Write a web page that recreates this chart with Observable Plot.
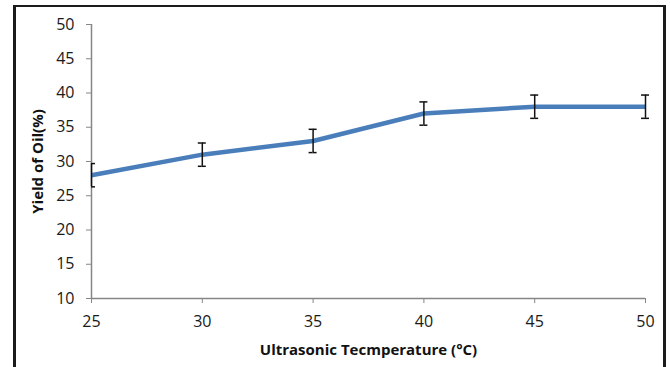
<!DOCTYPE html>
<html>
<head>
<meta charset="utf-8">
<script src="https://cdn.jsdelivr.net/npm/d3@7"></script>
<script src="https://cdn.jsdelivr.net/npm/@observablehq/plot@0.6"></script>
<style>
  html, body { margin: 0; padding: 0; background: #fff; }
  #wrap { position: relative; width: 670px; height: 367px; overflow: hidden; }
  #frame { position: absolute; left: 13px; top: 5px; width: 647px; height: 400px;
           border-left: 3px solid #1b1b1b; border-top: 2px solid #1b1b1b; border-right: 3px solid #1b1b1b;
           pointer-events: none; }
  g[aria-label="x-axis tick label"] text, g[aria-label="y-axis tick label"] text { font-size: 16px; }
</style>
</head>
<body>
<div id="wrap"><div id="frame"></div></div>
<script>
const temperatures = [25, 30, 35, 40, 45, 50];
const yields = [28, 31, 33, 37, 38, 38];
const errors = [1.7, 1.7, 1.7, 1.7, 1.7, 1.7];
const xTicks = [25, 30, 35, 40, 45, 50];
const yTicks = [10, 15, 20, 25, 30, 35, 40, 45, 50];
const xTitle = "Ultrasonic Tecmperature (°C)";
const yTitle = "Yield of Oil(%)";

const data = temperatures.map((t, i) => ({t, y: yields[i], lo: yields[i] - errors[i], hi: yields[i] + errors[i]}));
const tMin = d3.min(temperatures);
const tMax = d3.max(temperatures);

const axisColor = "#868686";
const font = "'Open Sans', 'Liberation Sans', sans-serif";

const chart = Plot.plot({
  width: 670,
  height: 367,
  marginLeft: 91,
  marginRight: 25,
  marginTop: 24,
  marginBottom: 69,
  style: {fontFamily: font, fontSize: "16px", color: "#1a1a1a", background: "transparent"},
  x: {domain: [tMin, tMax]},
  y: {domain: [10, 50]},
  marks: [
    Plot.axisX({ticks: xTicks, tickSize: 5, tickPadding: 12, stroke: axisColor, label: null, fill: "#1a1a1a", fontSize: 16}),
    Plot.axisY({ticks: yTicks, tickSize: 5, tickPadding: 12, stroke: axisColor, label: null, fill: "#1a1a1a", fontSize: 16}),
    Plot.ruleY([10], {stroke: axisColor, strokeWidth: 1.5}),
    Plot.ruleX([tMin], {stroke: axisColor, strokeWidth: 1.5}),
    Plot.line(data, {x: "t", y: "y", stroke: "#4a7ebb", strokeWidth: 4.5, clip: true}),
    Plot.ruleX(data, {x: "t", y1: "lo", y2: "hi", stroke: "#111", strokeWidth: 1.5}),
    // right halves of caps
    Plot.ruleY(data, {x1: "t", x2: "t", y: "lo", insetRight: -4, stroke: "#111", strokeWidth: 1.5}),
    Plot.ruleY(data, {x1: "t", x2: "t", y: "hi", insetRight: -4, stroke: "#111", strokeWidth: 1.5}),
    // left halves of caps (hidden behind the y axis at the first point)
    Plot.ruleY(data, {filter: d => d.t > tMin, x1: "t", x2: "t", y: "lo", insetLeft: -4, stroke: "#111", strokeWidth: 1.5}),
    Plot.ruleY(data, {filter: d => d.t > tMin, x1: "t", x2: "t", y: "hi", insetLeft: -4, stroke: "#111", strokeWidth: 1.5}),
    Plot.text([yTitle], {frameAnchor: "left", dx: -53, rotate: -90, textAnchor: "middle", fontWeight: "bold", fontSize: 15, fill: "#111"}),
    Plot.text([xTitle], {frameAnchor: "bottom", dy: 56, fontWeight: "bold", fontSize: 15, fill: "#111"})
  ]
});
document.getElementById("wrap").prepend(chart);
</script>
</body>
</html>
